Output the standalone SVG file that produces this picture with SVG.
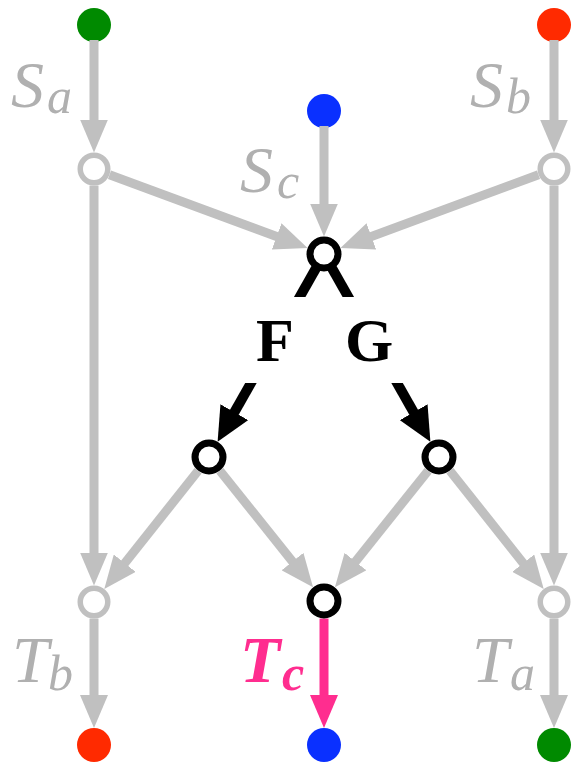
<svg xmlns="http://www.w3.org/2000/svg" width="572" height="763" viewBox="0 0 572 763">
<style>
.g{stroke:#c0c0c0;stroke-width:9;fill:none;marker-end:url(#ag)}
.k{stroke:#000;stroke-width:10;fill:none;marker-end:url(#ak)}
.p{stroke:#ff2d8f;stroke-width:9;fill:none;marker-end:url(#ap)}
.open{fill:#fff;stroke:#c0c0c0;stroke-width:5.5}
.blk{fill:#fff;stroke:#000;stroke-width:7}
.lbl{font-family:"Liberation Serif",serif;font-style:italic;fill:#b0b0b0;font-size:66px}
.sub{font-size:50px}
.pink{fill:#ff2d8f;font-weight:bold}
.fg{font-family:"Liberation Serif",serif;font-weight:bold;font-size:62px;fill:#000}
</style>
<defs>
<marker id="ag" markerUnits="userSpaceOnUse" markerWidth="33" markerHeight="28" refX="18" refY="14" orient="auto" viewBox="0 0 33 28"><path d="M0,0 L33,14 L0,28 z" fill="#c0c0c0"/></marker>
<marker id="ap" markerUnits="userSpaceOnUse" markerWidth="33" markerHeight="28" refX="18" refY="14" orient="auto" viewBox="0 0 33 28"><path d="M0,0 L33,14 L0,28 z" fill="#ff2d8f"/></marker>
<marker id="ak" markerUnits="userSpaceOnUse" markerWidth="34" markerHeight="32" refX="19" refY="16" orient="auto" viewBox="0 0 34 32"><path d="M0,0 L34,16 L0,32 z" fill="#000"/></marker>
<clipPath id="gap"><rect x="0" y="0" width="572" height="297"/><rect x="0" y="383" width="572" height="380"/></clipPath>
</defs>
<g id="source-a"><circle cx="94" cy="25" r="17" fill="#008a00"/></g>
<g id="source-b"><circle cx="554" cy="25" r="17" fill="#ff2a00"/></g>
<g id="source-c"><circle cx="324" cy="111" r="17" fill="#0a30ff"/></g>
<g id="target-b"><circle cx="94" cy="745" r="17" fill="#ff2a00"/></g>
<g id="target-c"><circle cx="324" cy="745" r="17" fill="#0a30ff"/></g>
<g id="target-a"><circle cx="554" cy="745" r="17" fill="#008a00"/></g>
<g id="connectors">
<path class="g" d="M94,40 L94,137.5"/>
<path class="g" d="M554,40 L554,137.5"/>
<path class="g" d="M324,126 L324,221.5"/>
<path class="g" d="M109.5,174.7 L293.5,242.7"/>
<path class="g" d="M538.5,174.7 L354.5,242.7"/>
<path class="g" d="M94,185.5 L94,570.5"/>
<path class="g" d="M554,185.5 L554,570.5"/>
<path class="g" d="M198.1,470.7 L113.6,577.3"/>
<path class="g" d="M219.9,470.7 L303.7,575.6"/>
<path class="g" d="M428.1,470.7 L344.3,575.6"/>
<path class="g" d="M449.9,470.7 L534.4,577.3"/>
<path class="g" d="M94,618.5 L94,713"/>
<path class="g" d="M554,618.5 L554,713"/>
<path class="p" d="M324,618.5 L324,713"/>
<g clip-path="url(#gap)">
<path class="k" d="M317.1,266.2 L225,428.75"/>
<path class="k" d="M330.9,266.2 L423,428.75"/>
</g>
</g>
<g id="node-ol"><circle class="open" cx="94" cy="169" r="13.75"/></g>
<g id="node-or"><circle class="open" cx="554" cy="169" r="13.75"/></g>
<g id="node-bl"><circle class="open" cx="94" cy="602" r="13.75"/></g>
<g id="node-br"><circle class="open" cx="554" cy="602" r="13.75"/></g>
<g id="node-c"><circle class="blk" cx="324" cy="254" r="14"/></g>
<g id="node-f"><circle class="blk" cx="209" cy="457" r="14"/></g>
<g id="node-g"><circle class="blk" cx="439" cy="457" r="14"/></g>
<g id="node-bc"><circle class="blk" cx="324" cy="601" r="14"/></g>
<g id="labels">
<text class="lbl" x="11" y="107">S<tspan class="sub" x="47" y="113">a</tspan></text>
<text class="lbl" x="240" y="192">S<tspan class="sub" x="277" y="198">c</tspan></text>
<text class="lbl" x="470" y="107">S<tspan class="sub" x="506" y="113">b</tspan></text>
<text class="lbl" x="12" y="682">T<tspan class="sub" x="48" y="690">b</tspan></text>
<text class="lbl pink" x="240" y="682">T<tspan class="sub" x="282" y="690">c</tspan></text>
<text class="lbl" x="472" y="682">T<tspan class="sub" x="510" y="690">a</tspan></text>
<text class="fg" x="256" y="361">F</text>
<text class="fg" x="345" y="361">G</text>
</g>
</svg>
